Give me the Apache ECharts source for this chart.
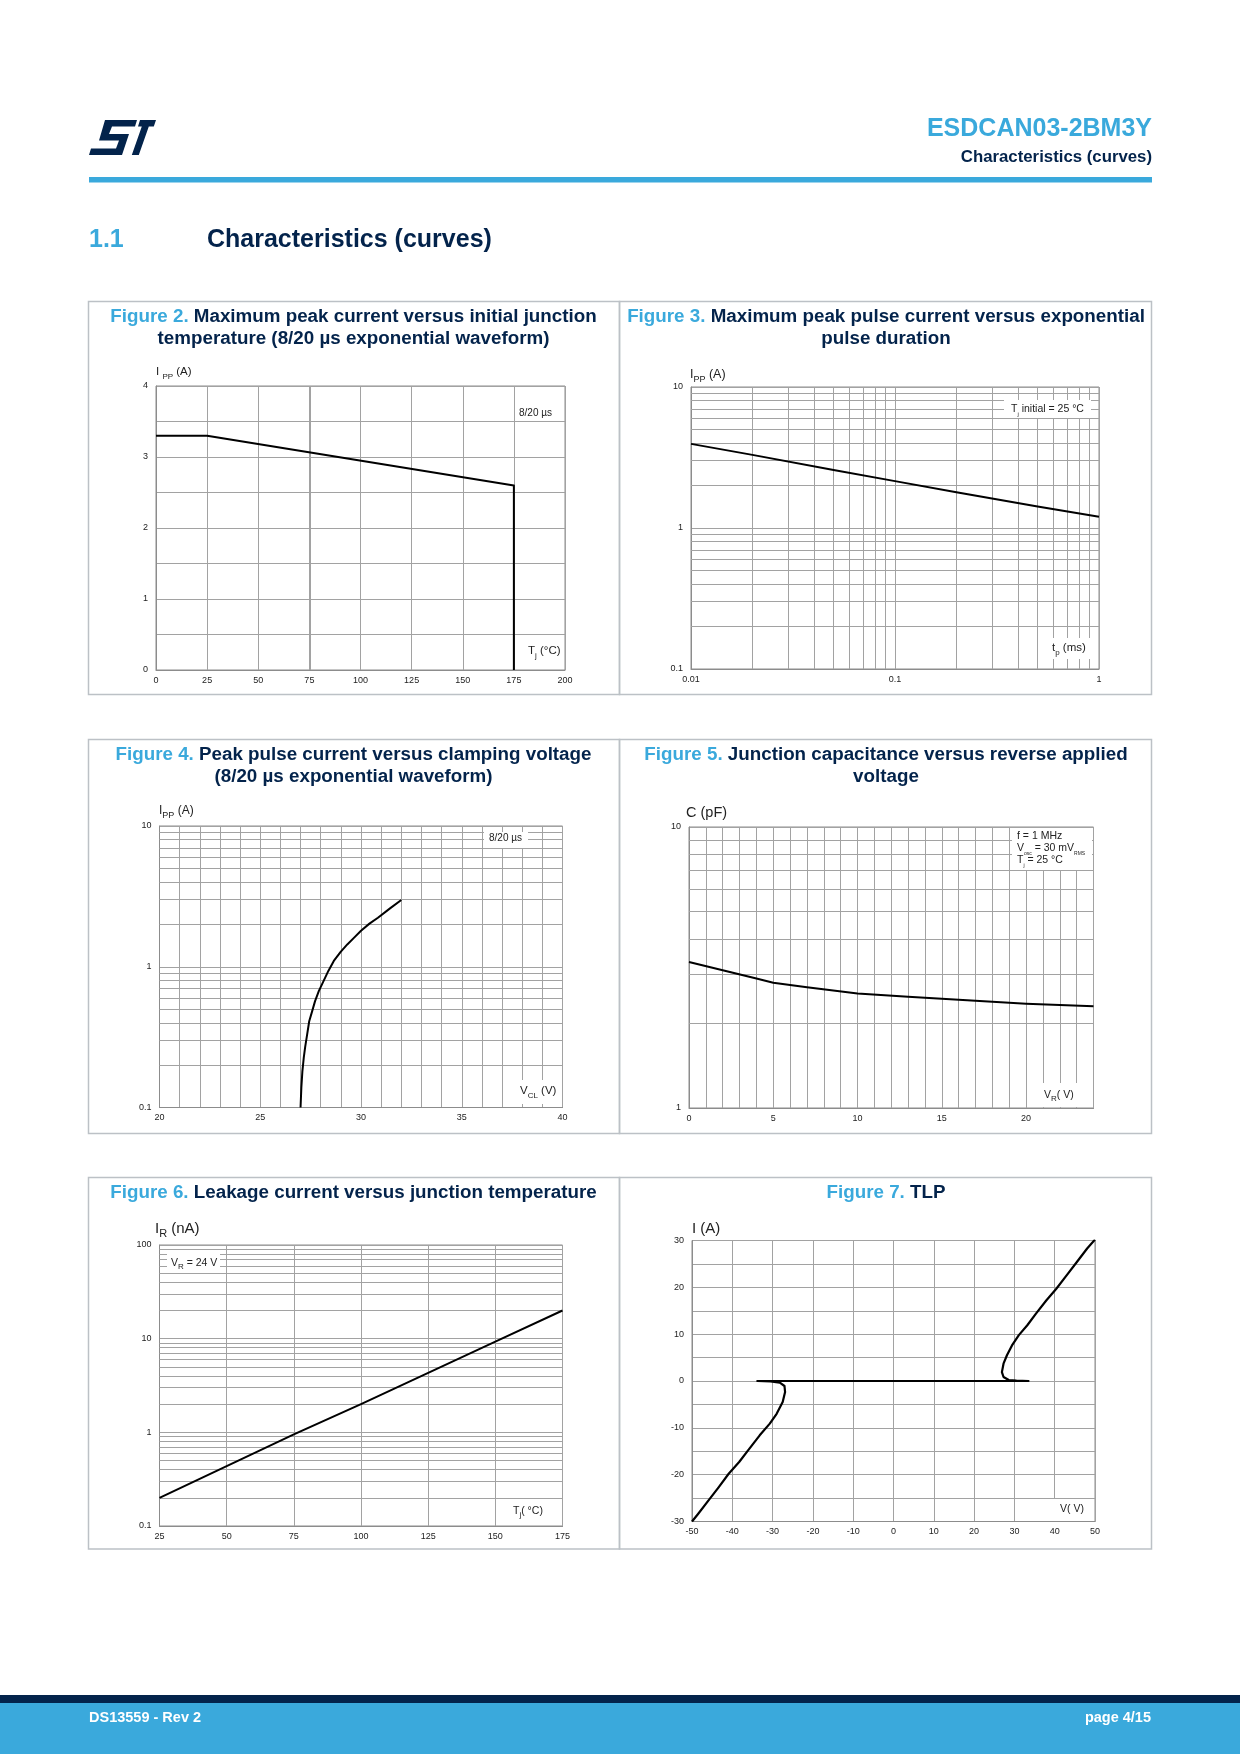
<!DOCTYPE html>
<html><head><meta charset="utf-8">
<script src="https://cdn.jsdelivr.net/npm/echarts@6/dist/echarts.min.js"></script>
<style>html,body{margin:0;padding:0;background:#fff}#c{width:1240px;height:1754px}</style>
</head><body><div id="c"></div>
<script>
// ---------------- DATA ----------------
// Figure 2: Ipp vs initial junction temperature
const fig2Temp = [0, 25, 175, 175];
const fig2Ipp  = [3.3, 3.3, 2.6, 0];
// Figure 3: Ipp vs pulse duration (ms)
const fig3Tp  = [0.01, 0.02, 0.05, 0.1, 0.2, 0.5, 1];
const fig3Ipp = [3.95, 3.3, 2.58, 2.15, 1.79, 1.42, 1.2];
// Figure 4: Ipp vs clamping voltage
const fig4Vcl = [27.0, 27.04, 27.09, 27.16, 27.23, 27.33, 27.43, 27.57, 27.72, 27.91, 28.14, 28.38, 28.65, 28.99, 29.32, 29.66, 30.0, 30.42, 30.84, 31.44, 32.0];
const fig4Ipp = [0.1, 0.139, 0.18, 0.226, 0.27, 0.332, 0.41, 0.48, 0.57, 0.674, 0.79, 0.934, 1.1, 1.274, 1.44, 1.611, 1.8, 2.025, 2.23, 2.6, 2.98];
// Figure 5: capacitance vs reverse voltage
const fig5Vr = [0, 2, 4, 5, 7, 10, 13, 17, 20, 24];
const fig5C  = [3.31, 3.09, 2.89, 2.79, 2.69, 2.556, 2.486, 2.406, 2.35, 2.30];
// Figure 6: leakage current vs junction temperature
const fig6Tj = [25, 75, 100, 150, 175];
const fig6Ir = [0.2, 0.95, 2.0, 9.3, 20];
// Figure 7: TLP
const fig7V = [-50, -48.5, -45.9, -43.4, -40.9, -38.3, -35.8, -33.2, -30.7, -29.0, -27.5, -26.9, -27.05, -28.2, -30.5, -33.8,
               33.5, 30.5, 28.6, 27.3, 26.9, 27.3, 28.15, 29.4, 31.1, 33.2, 35.35, 37.9, 40.4, 43.0, 45.5, 48.05, 50];
const fig7I = [-30, -28.4, -25.5, -22.7, -19.8, -17.3, -14.5, -11.6, -9.1, -7.0, -4.5, -2.35, -1.07, -0.35, -0.08, 0,
               0, 0.06, 0.2, 0.85, 1.9, 3.7, 5.5, 7.6, 9.8, 11.9, 14.4, 17.2, 19.7, 22.6, 25.4, 28.3, 30.2];
// minor grid tick values for log axes
const logMinor01to10 = [0.2, 0.3, 0.4, 0.5, 0.6, 0.7, 0.8, 0.9, 2, 3, 4, 5, 6, 7, 8, 9];
const logMinor1to10 = [2, 3, 4, 5, 6, 7, 8, 9];
const logMinor01to100 = [0.2, 0.3, 0.4, 0.5, 0.6, 0.7, 0.8, 0.9, 2, 3, 4, 5, 6, 7, 8, 9, 20, 30, 40, 50, 60, 70, 80, 90];
const logMinor001to1 = [0.02, 0.03, 0.04, 0.05, 0.06, 0.07, 0.08, 0.09, 0.2, 0.3, 0.4, 0.5, 0.6, 0.7, 0.8, 0.9];

// ---------------- STYLE ----------------
const BLUE = '#3AA9DC', NAVY = '#03234B', GRID = '#a2a2a2', AXIS = '#8c8c8c', TXT = '#222', FONT = 'Liberation Sans';
const zip = (a, b) => a.map((v, i) => [v, b[i]]);

function ax(gi, extra, margin) {
  const label = Object.assign({fontSize: 9, color: TXT, fontFamily: FONT, margin: margin}, extra.axisLabel || {});
  const a = Object.assign({
    gridIndex: gi,
    axisLine: {show: true, onZero: false, lineStyle: {color: AXIS, width: 1}},
    axisTick: {show: false},
    splitLine: {show: true, lineStyle: {color: GRID, width: 1}},
    animation: false
  }, extra);
  a.axisLabel = label;
  return a;
}
const xAx = (gi, extra) => ax(gi, extra, 6);
const yAx = (gi, extra) => ax(gi, extra, 8);

function curve(gi, data, width) {
  return {type: 'line', xAxisIndex: gi, yAxisIndex: gi, data, z: 5, symbol: 'none', showSymbol: false,
    smooth: false, silent: true, animation: false,
    lineStyle: {color: '#000', width: width || 2, join: 'round'}};
}
function minorLines(gi, xs, ys, width) {
  return {type: 'line', xAxisIndex: gi, yAxisIndex: gi, data: [], z: 1, silent: true, animation: false,
    markLine: {silent: true, symbol: ['none', 'none'], animation: false, label: {show: false},
      emphasis: {disabled: true},
      lineStyle: {color: GRID, width: width || 1, type: 'solid'},
      data: xs.map(v => ({xAxis: v})).concat(ys.map(v => ({yAxis: v})))}};
}

// ---------------- GRAPHICS helpers ----------------
function txt(x, y, text, size, color, opts) {
  opts = opts || {};
  return {type: 'text', x, y, z: 60, silent: true,
    style: {text, fill: color, font: (opts.bold ? 'bold ' : '') + size + 'px "' + FONT + '"',
      align: opts.align || 'left', verticalAlign: 'middle'}};
}
function subTxt(x, y, parts, size, color, subScale) {
  const s = Math.max(5, Math.round(size * (subScale || 0.72)));
  const text = parts.map(p => '{' + (p[1] ? 's' : 'm') + '|' + p[0] + '}').join('');
  return {type: 'text', x, y, z: 60, silent: true,
    style: {text, font: size + 'px "' + FONT + '"', fill: color, align: 'left', verticalAlign: 'middle',
      rich: {
        m: {font: size + 'px "' + FONT + '"', fill: color, lineHeight: size + 6},
        s: {font: s + 'px "' + FONT + '"', fill: color, verticalAlign: 'bottom'}
      }}};
}
const TF = 'bold 18.8px "' + FONT + '"';
function title(cx, y, fig, rest) {
  return {type: 'text', x: cx, y, z: 60, silent: true,
    style: {text: '{b|' + fig + '} {n|' + rest + '}', font: TF, fill: NAVY,
      align: 'center', verticalAlign: 'middle',
      rich: {b: {font: TF, fill: BLUE}, n: {font: TF, fill: NAVY}}}};
}
function box(x, y, w, h) {
  return {type: 'rect', z: 40, silent: true, shape: {x, y, width: w, height: h},
    style: {fill: 'none', stroke: '#BCC1C6', lineWidth: 1.5}};
}
function white(x, y, w, h) {
  return {type: 'rect', z: 55, silent: true, shape: {x, y, width: w, height: h}, style: {fill: '#fff'}};
}
function poly(points, ox, oy) {
  return {type: 'polygon', z: 60, silent: true, shape: {points: points.map(p => [p[0] + ox, p[1] + oy])}, style: {fill: NAVY}};
}

const graphics = [
  // logo
  poly([[16,0],[48,0],[46,6.5],[23,6.5],[20,14],[40,14],[33,35],[0,35],[2,28.5],[27,28.5],[30,20.5],[10,20.5]], 89, 120),
  poly([[51,0],[67,0],[64.8,6.5],[59.8,6.5],[49.8,35],[42.8,35],[52.8,6.5],[49,6.5]], 89, 120),
  // header
  txt(1152, 129, 'ESDCAN03-2BM3Y', 25, BLUE, {bold: true, align: 'right'}),
  txt(1152, 157, 'Characteristics (curves)', 16.8, NAVY, {bold: true, align: 'right'}),
  {type: 'rect', z: 40, silent: true, shape: {x: 89, y: 177, width: 1063, height: 5.5}, style: {fill: BLUE}},
  txt(89, 240, '1.1', 25, BLUE, {bold: true}),
  txt(207, 240, 'Characteristics (curves)', 25, NAVY, {bold: true}),
  // panel boxes
  box(88.5, 301.5, 531, 393), box(619.5, 301.5, 532, 393),
  box(88.5, 739.5, 531, 394), box(619.5, 739.5, 532, 394),
  box(88.5, 1177.5, 531, 371.5), box(619.5, 1177.5, 532, 371.5),
  // titles
  title(353.5, 317, 'Figure 2.', 'Maximum peak current versus initial junction'),
  txt(353.5, 339, 'temperature (8/20 µs exponential waveform)', 18.8, NAVY, {bold: true, align: 'center'}),
  title(886, 317, 'Figure 3.', 'Maximum peak pulse current versus exponential'),
  txt(886, 339, 'pulse duration', 18.8, NAVY, {bold: true, align: 'center'}),
  title(353.5, 755, 'Figure 4.', 'Peak pulse current versus clamping voltage'),
  txt(353.5, 777, '(8/20 µs exponential waveform)', 18.8, NAVY, {bold: true, align: 'center'}),
  title(886, 755, 'Figure 5.', 'Junction capacitance versus reverse applied'),
  txt(886, 777, 'voltage', 18.8, NAVY, {bold: true, align: 'center'}),
  title(353.5, 1193, 'Figure 6.', 'Leakage current versus junction temperature'),
  title(886, 1193, 'Figure 7.', 'TLP'),
  // fig 2 texts
  subTxt(156, 372, [['I ', 0], ['PP', 1], [' (A)', 0]], 11.5, TXT),
  txt(519, 413, '8/20 µs', 10, TXT),
  subTxt(528, 651, [['T', 0], ['j', 1], [' (°C)', 0]], 11.5, TXT),
  // fig 3 texts
  subTxt(690, 375, [['I', 0], ['PP', 1], [' (A)', 0]], 12.5, TXT),
  white(1004, 400, 87, 18),
  subTxt(1011, 409, [['T', 0], ['j', 1], [' initial = 25 °C', 0]], 10.5, TXT, 0.6),
  white(1048, 638, 44, 21),
  subTxt(1052, 648, [['t', 0], ['p', 1], [' (ms)', 0]], 11.5, TXT),
  // fig 4 texts
  subTxt(159, 811, [['I', 0], ['PP', 1], [' (A)', 0]], 12, TXT),
  white(484, 832, 44, 16),
  txt(489, 838, '8/20 µs', 10, TXT),
  white(515, 1080, 44, 24),
  subTxt(520, 1091, [['V', 0], ['CL', 1], [' (V)', 0]], 11.5, TXT),
  // fig 5 texts
  txt(686, 813, 'C (pF)', 14.5, TXT),
  white(1012, 828, 80, 42),
  txt(1017, 836, 'f = 1 MHz', 10.5, TXT),
  subTxt(1017, 848, [['V', 0], ['osc', 1], [' = 30 mV', 0], ['RMS', 1]], 10.5, TXT, 0.5),
  subTxt(1017, 860, [['T', 0], ['j', 1], [' = 25 °C', 0]], 10.5, TXT, 0.5),
  white(1042, 1083, 35, 24),
  subTxt(1044, 1095, [['V', 0], ['R', 1], ['( V)', 0]], 10.5, TXT),
  // fig 6 texts
  subTxt(155, 1229, [['I', 0], ['R', 1], [' (nA)', 0]], 15, TXT),
  white(167, 1254, 53, 17),
  subTxt(171, 1263, [['V', 0], ['R', 1], [' = 24 V', 0]], 10.5, TXT),
  subTxt(513, 1511, [['T', 0], ['j', 1], ['( °C)', 0]], 10.5, TXT),
  // fig 7 texts
  txt(692, 1229, 'I (A)', 15, TXT),
  white(1048, 1499, 45, 22),
  txt(1060, 1509, 'V( V)', 10.5, TXT),
  // footer
  {type: 'rect', z: 40, silent: true, shape: {x: 0, y: 1695, width: 1240, height: 8}, style: {fill: NAVY}},
  {type: 'rect', z: 40, silent: true, shape: {x: 0, y: 1703, width: 1240, height: 51}, style: {fill: BLUE}},
  txt(89, 1718, 'DS13559 - Rev 2', 14.5, '#fff', {bold: true}),
  txt(1151, 1718, 'page 4/15', 14.5, '#fff', {bold: true, align: 'right'})
];

const gridStyle = {show: true, borderColor: AXIS, borderWidth: 1, backgroundColor: 'transparent', containLabel: false};
const option = {
  animation: false,
  backgroundColor: '#fff',
  grid: [
    Object.assign({left: 156, top: 386, width: 409, height: 284}, gridStyle),
    Object.assign({left: 691, top: 387, width: 408, height: 282}, gridStyle),
    Object.assign({left: 159.5, top: 826, width: 403, height: 281.5}, gridStyle),
    Object.assign({left: 689, top: 827, width: 404.5, height: 281}, gridStyle),
    Object.assign({left: 159.5, top: 1245, width: 403, height: 281}, gridStyle),
    Object.assign({left: 692, top: 1240.5, width: 403, height: 281}, gridStyle)
  ],
  xAxis: [
    xAx(0, {type: 'value', min: 0, max: 200, interval: 25}),
    xAx(1, {type: 'log', logBase: 10, min: 0.01, max: 1}),
    xAx(2, {type: 'value', min: 20, max: 40, interval: 1, axisLabel: {formatter: v => (v % 5 === 0 ? String(v) : '')}}),
    xAx(3, {type: 'value', min: 0, max: 24, interval: 1, axisLabel: {formatter: v => (v % 5 === 0 ? String(v) : '')}}),
    xAx(4, {type: 'value', min: 25, max: 175, interval: 25}),
    xAx(5, {type: 'value', min: -50, max: 50, interval: 10})
  ],
  yAxis: [
    yAx(0, {type: 'value', min: 0, max: 4, interval: 0.5, axisLabel: {formatter: v => (Number.isInteger(v) ? String(v) : '')}}),
    yAx(1, {type: 'log', logBase: 10, min: 0.1, max: 10}),
    yAx(2, {type: 'log', logBase: 10, min: 0.1, max: 10}),
    yAx(3, {type: 'log', logBase: 10, min: 1, max: 10}),
    yAx(4, {type: 'log', logBase: 10, min: 0.1, max: 100}),
    yAx(5, {type: 'value', min: -30, max: 30, interval: 5, axisLabel: {formatter: v => (v % 10 === 0 ? String(v) : '')}})
  ],
  series: [
    minorLines(0, [75], [], 2),
    minorLines(1, logMinor001to1, logMinor01to10),
    minorLines(2, [], logMinor01to10),
    minorLines(3, [], logMinor1to10),
    minorLines(4, [], logMinor01to100),
    curve(0, zip(fig2Temp, fig2Ipp)),
    curve(1, zip(fig3Tp, fig3Ipp)),
    curve(2, zip(fig4Vcl, fig4Ipp)),
    curve(3, zip(fig5Vr, fig5C)),
    curve(4, zip(fig6Tj, fig6Ir)),
    curve(5, zip(fig7V, fig7I), 2.2)
  ],
  graphic: {elements: graphics}
};
const chart = echarts.init(document.getElementById('c'), null, {renderer: 'canvas', width: 1240, height: 1754});
chart.setOption(option);
</script></body></html>
